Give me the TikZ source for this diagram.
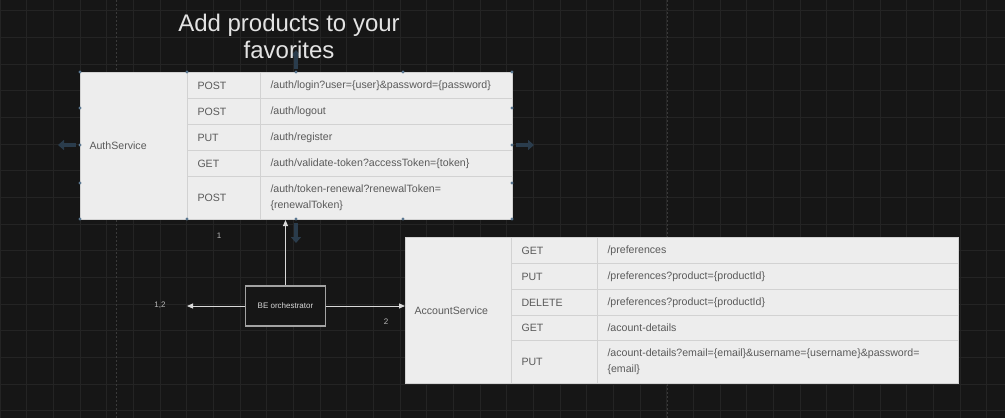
\documentclass[tikz,border=0pt]{standalone}
\usepackage{fontspec}
\setmainfont{Liberation Sans}
\usetikzlibrary{arrows.meta}

\definecolor{canvas}{HTML}{161616}
\definecolor{gridcol}{HTML}{242424}
\definecolor{pagecol}{HTML}{3A3A3A}
\definecolor{cellfill}{HTML}{EDEDED}
\definecolor{cellline}{HTML}{D2D2D2}
\definecolor{celltext}{HTML}{5A5A5A}
\definecolor{linkcol}{HTML}{D9D9D9}
\definecolor{titlecol}{HTML}{E3E3E3}
\definecolor{handlecol}{HTML}{5B7891}
\definecolor{hovercol}{HTML}{2A3C4C}

\tikzset{
    cell/.style={draw=cellline,fill=cellfill,line width=1pt,anchor=north west,inner xsep=10pt,inner ysep=0pt,
        align=left,text=celltext,font=\fontsize{10.6}{16}\selectfont},
    namecell/.style={cell,inner xsep=9pt},
    conn/.style={draw=linkcol,line width=1pt,-{Triangle[length=6pt,width=5pt]}},
    smalltext/.style={text=linkcol!85!black,font=\fontsize{8}{10}\selectfont,inner sep=0pt},
    hover/.style={draw=hovercol,line width=4pt,-{Triangle[length=6pt,width=10pt]}},
}

\begin{document}
\begin{tikzpicture}[x=1pt,y=-1pt]
    \useasboundingbox (0,0) rectangle (1005,418);
    \fill[canvas] (0,0) rectangle (1005,418);
    \foreach \gx in {0,26.67,...,1005} \draw[gridcol,line width=0.6pt] (\gx,0)--(\gx,418);
    \foreach \gy in {10.7,37.37,...,418} \draw[gridcol,line width=0.6pt] (0,\gy)--(1005,\gy);
    \draw[pagecol,dash pattern=on 2pt off 2pt] (116,0)--(116,418);
    \draw[pagecol,dash pattern=on 2pt off 2pt] (667.5,0)--(667.5,418);

    % hover arrows behind the title
    \draw[hover] (296,69)--(296,50);

    \node[text=titlecol,font=\fontsize{24}{27}\selectfont,align=center] (title) at (289,36) {Add products to your\\favorites};

    % AuthService
    \node[namecell,text width=89pt,minimum height=147pt] (authname) at (80,72) {AuthService};
    \node[cell,text width=53pt,minimum height=26pt] (authm1) at (187,72) {POST};
    \node[cell,text width=53pt,minimum height=26pt] (authm2) at (187,98) {POST};
    \node[cell,text width=53pt,minimum height=26pt] (authm3) at (187,124) {PUT};
    \node[cell,text width=53pt,minimum height=26pt] (authm4) at (187,150) {GET};
    \node[cell,text width=53pt,minimum height=43pt] (authm5) at (187,176) {POST};
    \node[cell,text width=232pt,minimum height=26pt] (authp1) at (260,72) {/auth/login?user=\{user\}\&password=\{password\}};
    \node[cell,text width=232pt,minimum height=26pt] (authp2) at (260,98) {/auth/logout};
    \node[cell,text width=232pt,minimum height=26pt] (authp3) at (260,124) {/auth/register};
    \node[cell,text width=232pt,minimum height=26pt] (authp4) at (260,150) {/auth/validate-token?accessToken=\{token\}};
    \node[cell,text width=232pt,minimum height=43pt] (authp5) at (260,176) {/auth/token-renewal?renewalToken=\\\{renewalToken\}};

    % AccountService
    \node[namecell,text width=88pt,minimum height=146pt] (acctname) at (405,237) {AccountService};
    \node[cell,text width=66pt,minimum height=26pt] (acctm1) at (511,237) {GET};
    \node[cell,text width=66pt,minimum height=26pt] (acctm2) at (511,263) {PUT};
    \node[cell,text width=66pt,minimum height=26pt] (acctm3) at (511,289) {DELETE};
    \node[cell,text width=66pt,minimum height=25pt] (acctm4) at (511,315) {GET};
    \node[cell,text width=66pt,minimum height=43pt] (acctm5) at (511,340) {PUT};
    \node[cell,text width=341pt,minimum height=26pt] (acctp1) at (597,237) {/preferences};
    \node[cell,text width=341pt,minimum height=26pt] (acctp2) at (597,263) {/preferences?product=\{productId\}};
    \node[cell,text width=341pt,minimum height=26pt] (acctp3) at (597,289) {/preferences?product=\{productId\}};
    \node[cell,text width=341pt,minimum height=25pt] (acctp4) at (597,315) {/acount-details};
    \node[cell,text width=341pt,minimum height=43pt] (acctp5) at (597,340) {/acount-details?email=\{email\}\&username=\{username\}\&password=\\\{email\}};

    % selection handles and hover arrows
    \foreach \hx in {80,187,296,403,512} {
        \fill[handlecol] (\hx,72) circle (1.6);
        \fill[handlecol] (\hx,219) circle (1.6);
    }
    \foreach \hy in {108,145,183} {
        \fill[handlecol] (80,\hy) circle (1.6);
        \fill[handlecol] (512,\hy) circle (1.6);
    }
    \draw[hover] (76,145)--(58,145);
    \draw[hover] (516,145)--(534,145);
    \draw[hover] (296,223)--(296,243);

    % orchestrator
    \node[draw=linkcol!75!black,fill=canvas,line width=1.5pt,minimum width=80pt,minimum height=40pt,
        text=linkcol,font=\fontsize{8}{10}\selectfont] (orch) at (285.5,306) {BE orchestrator};
    \coordinate (lefttip) at (187,306);
    \draw[conn] (orch.north) -- (orch.north |- authp5.south);
    \draw[conn] (orch.west) -- (lefttip);
    \draw[conn] (orch.east) -- (acctname.west |- orch.east);
    \node[smalltext] (lbla) at (219,236) {1};
    \node[smalltext] (lblb) at (160,305) {1,2};
    \node[smalltext] (lblc) at (386,322) {2};
\end{tikzpicture}
\end{document}
